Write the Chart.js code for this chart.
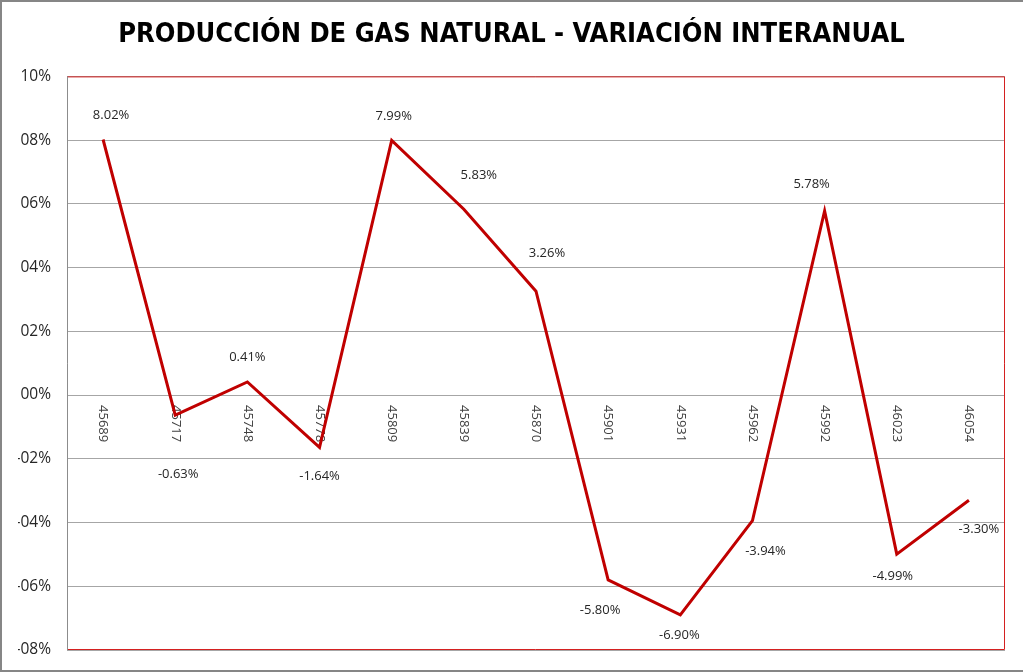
<!DOCTYPE html>
<html>
<head>
<meta charset="utf-8">
<script src="https://cdn.jsdelivr.net/npm/chart.js@4"></script>
<style>
  html, body { margin: 0; padding: 0; background: #fff; }
  canvas { display: block; }
</style>
</head>
<body>
<canvas id="gasChart" width="1023" height="672"></canvas>
<script>
// Data
const categories = ['45689', '45717', '45748', '45778', '45809', '45839', '45870',
                    '45901', '45931', '45962', '45992', '46023', '46054'];
const variation = [8.02, -0.63, 0.41, -1.64, 7.99, 5.83, 3.26, -5.80, -6.90, -3.94, 5.78, -4.99, -3.30];
const yMin = -8, yMax = 10, yStep = 2;
// nudges of each value label from its point, in px
const labelNudge = [[8, -24], [3, 59], [0, -25], [0, 29], [2, -24], [15, -34], [11, -38],
                    [-8, 30], [-1, 20], [13, 31], [-13, -27], [-4, 22], [10, 29]];

const RED = '#c00000';

function pct(v) {
  const n = Math.abs(v);
  return (v < 0 ? '-' : '') + (n < 10 ? '0' : '') + n + '%';
}

// category labels sit on the zero line, rotated clockwise, under the line
const categoryLabels = {
  id: 'categoryLabels',
  beforeDatasetsDraw(chart) {
    const ctx = chart.ctx, x = chart.scales.x, y = chart.scales.y;
    const y0 = y.getPixelForValue(0);
    ctx.save();
    ctx.font = '13px "Open Sans"';
    ctx.fillStyle = '#404040';
    ctx.textAlign = 'left';
    ctx.textBaseline = 'middle';
    categories.forEach((c, i) => {
      ctx.save();
      ctx.translate(x.getPixelForValue(i), y0 + 10);
      ctx.rotate(Math.PI / 2);
      ctx.fillText(c, 0, 0);
      ctx.restore();
    });
    ctx.restore();
  }
};

// value labels, plot frame and outer frame
const decorations = {
  id: 'decorations',
  afterDraw(chart) {
    const ctx = chart.ctx, a = chart.chartArea;
    const meta = chart.getDatasetMeta(0);
    ctx.save();
    ctx.font = '13px "Open Sans"';
    ctx.fillStyle = '#262626';
    ctx.textAlign = 'center';
    ctx.textBaseline = 'middle';
    meta.data.forEach((pt, i) => {
      const v = variation[i];
      ctx.fillText(v.toFixed(2) + '%', pt.x + labelNudge[i][0], pt.y + labelNudge[i][1]);
    });

    // plot area border
    ctx.strokeStyle = '#d42020';
    ctx.lineWidth = 1;
    ctx.beginPath();
    ctx.moveTo(a.left, a.top + 0.5);
    ctx.lineTo(a.right - 0.5, a.top + 0.5);
    ctx.lineTo(a.right - 0.5, a.bottom - 0.5);
    ctx.lineTo(a.left, a.bottom - 0.5);
    ctx.stroke();
    ctx.strokeStyle = '#8c8c8c';
    ctx.beginPath();
    ctx.moveTo(a.left + 0.5, a.top);
    ctx.lineTo(a.left + 0.5, a.bottom);
    ctx.stroke();

    // outer frame
    ctx.strokeStyle = '#868686';
    ctx.lineWidth = 2;
    ctx.strokeRect(1, 1, chart.width + 4, chart.height - 2);
    ctx.restore();
  }
};

new Chart(document.getElementById('gasChart'), {
  type: 'line',
  data: {
    labels: categories,
    datasets: [{
      data: variation,
      borderColor: RED,
      borderWidth: 3,
      pointRadius: 0,
      tension: 0,
      fill: false
    }]
  },
  options: {
    responsive: false,
    animation: false,
    devicePixelRatio: 1,
    layout: { padding: { left: 18, right: 18, top: 0, bottom: 22 } },
    plugins: {
      legend: { display: false },
      tooltip: { enabled: false },
      title: {
        display: true,
        text: 'PRODUCCIÓN DE GAS NATURAL - VARIACIÓN INTERANUAL',
        color: '#000',
        font: { family: '"Liberation Sans Narrow", "DejaVu Sans Condensed", sans-serif', size: 27, weight: 'bold', lineHeight: 1.2 },
        padding: { top: 19, bottom: 25 }
      }
    },
    scales: {
      x: {
        type: 'category',
        offset: true,
        display: false
      },
      y: {
        min: yMin,
        max: yMax,
        afterFit(scale) {
          scale.width = 49;
          scale.paddingTop = 0;
          scale.paddingBottom = 0;
        },
        ticks: {
          stepSize: yStep,
          padding: 16,
          color: '#262626',
          font: { family: '"Open Sans"', size: 15.5 },
          callback: v => pct(v)
        },
        grid: { color: '#a6a6a6', lineWidth: 1, drawTicks: false },
        border: { display: false }
      }
    }
  },
  plugins: [categoryLabels, decorations]
});
</script>
</body>
</html>
